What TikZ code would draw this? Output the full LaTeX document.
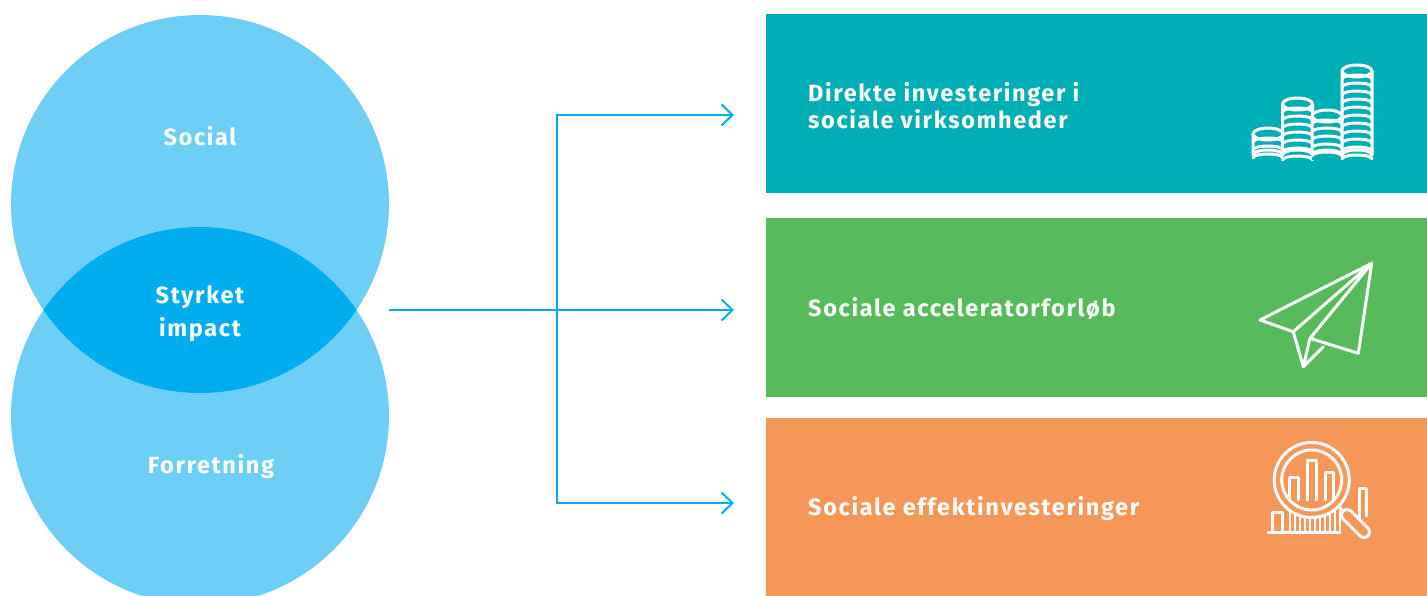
\documentclass[tikz,border=0pt]{standalone}
\usepackage{fontspec}
\setmainfont{Fira Sans}[LetterSpace=7]
\usetikzlibrary{arrows.meta}
\definecolor{lightblue}{HTML}{6DCFF6}
\definecolor{lensblue}{HTML}{00AEEF}
\definecolor{tealbox}{HTML}{00AFB5}
\definecolor{greenbox}{HTML}{57BB5B}
\definecolor{orangebox}{HTML}{F6975A}
\tikzset{
  lbl/.style={text=white,font=\fontsize{23.5}{33}\selectfont\bfseries,inner sep=0pt},
  boxlbl/.style={lbl,font=\fontsize{23.5}{27}\selectfont\bfseries,anchor=west,align=left},
  panel/.style={draw=none,minimum width=661pt,minimum height=179pt,inner sep=0pt,anchor=north west},
  conn/.style={draw=lensblue,line width=2pt,-{Straight Barb[length=11pt,width=21pt,line width=2pt]}},
  icon/.style={draw=white,line width=3pt,line join=round,line cap=round},
}
\begin{document}
\begin{tikzpicture}[x=1pt,y=-1pt]
\useasboundingbox (0,0) rectangle (1427,596);
% Venn
\fill[lightblue] (200,204) circle (189);
\fill[lightblue] (200,416) circle (189);
\begin{scope}
  \clip (200,204) circle (189);
  \fill[lensblue] (200,416) circle (189);
\end{scope}
\node[lbl] (social) at (200,136) {Social};
\node[lbl,align=center] (styrket) at (200,314) {Styrket\\impact};
\node[lbl] (forretning) at (211,467) {Forretning};
% panels
\node[panel,fill=tealbox] (box1) at (766,14) {};
\node[panel,fill=greenbox] (box2) at (766,218) {};
\node[panel,fill=orangebox] (box3) at (766,418) {};
\node[boxlbl] (t1) at (808,106) {Direkte investeringer i\\sociale virksomheder};
\node[boxlbl] (t2) at (808,309) {Sociale acceleratorforløb};
\node[boxlbl] (t3) at (808,509) {Sociale effektinvesteringer};
% connectors
\coordinate (src) at (389,310);
\coordinate (split) at (557,310);
\coordinate (e1) at (734,115);
\coordinate (e2) at (734,310);
\coordinate (e3) at (734,503);
\draw[conn] (src) -- (e2);
\draw[conn] (split) |- (e1);
\draw[conn] (split) |- (e3);
% coin icon
\foreach \cx/\top/\n in {1268/128/3, 1297.5/98/7, 1327/110/5, 1357/65/11}{
  \fill[tealbox] (\cx-15,\top+6) rectangle (\cx+15,160);
  \fill[tealbox] (\cx,\top+6) ellipse (15 and 6);
  \fill[tealbox] (\cx,155) ellipse (15 and 5);
  \draw[icon] (\cx,\top+6) ellipse (15 and 6);
  \draw[icon] (\cx-15,\top+6) -- (\cx-15,155) arc (180:360:15 and 5) -- (\cx+15,\top+6);
  \foreach \k in {1,...,\n}{
    \draw[icon] (\cx-15,\top+6+\k*8) arc (180:360:15 and 4);
  }
}
% paper plane
\coordinate (ptip) at (1371.7,263.3);
\coordinate (pleft) at (1260,320);
\coordinate (pfold) at (1293.3,331.7);
\coordinate (pbot) at (1303.3,366.7);
\coordinate (pin) at (1310,338.3);
\coordinate (pright) at (1358.3,353.3);
\coordinate (pmid) at (1323.3,346.7);
\draw[icon] (ptip) -- (pleft) -- (pfold) -- cycle;
\draw[icon] (ptip) -- (pin) -- (pright) -- cycle;
\draw[icon] (pfold) -- (pbot) -- (pmid);
\draw[icon] (pbot) -- (pin);
% magnifier icon
\draw[icon] (1268,532) -- (1340,532);
\draw[icon] (1272,532) -- (1272,512) -- (1282,512) -- (1282,532);
\draw[icon] (1359,528) -- (1359,488) -- (1366,488) -- (1366,516);
\foreach \x in {1290,1295,...,1340}{
  \draw[white,line width=1.6pt] (\x,505) -- (\x,531);
}
\fill[orangebox] (1311.7,480) circle (39);
\draw[icon] (1311.7,480) circle (37.5);
\draw[icon] (1311.7,480) circle (30);
\draw[icon] (1289,500) -- (1289,477) -- (1298,477) -- (1298,500);
\draw[icon] (1307,500) -- (1307,460) -- (1316,460) -- (1316,500);
\draw[icon] (1325,500) -- (1325,472) -- (1333,472) -- (1333,500);
\draw[white,line width=3pt,line cap=round] (1339,507) -- (1345,513);
\draw[white,line width=14pt,line cap=round] (1347,515) -- (1364,532);
\draw[orangebox,line width=8pt,line cap=round] (1347,515) -- (1364,532);
\end{tikzpicture}
\end{document}
